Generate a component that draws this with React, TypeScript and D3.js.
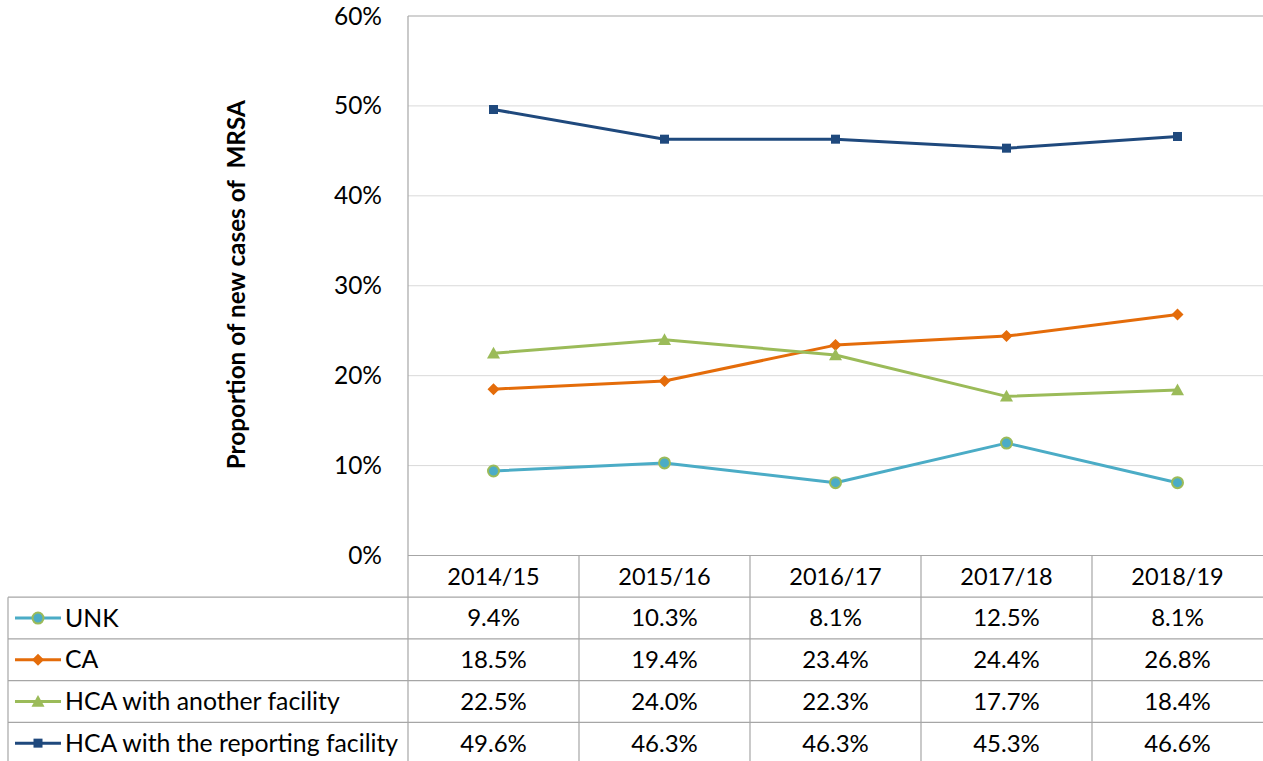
import React from "react";
import * as d3 from "d3";

const categories = ["2014/15", "2015/16", "2016/17", "2017/18", "2018/19"];
const seriesNames = ["UNK", "CA", "HCA with another facility", "HCA with the reporting facility"];
const unkValues = [9.4, 10.3, 8.1, 12.5, 8.1];
const caValues = [18.5, 19.4, 23.4, 24.4, 26.8];
const hcaAnotherValues = [22.5, 24.0, 22.3, 17.7, 18.4];
const hcaReportingValues = [49.6, 46.3, 46.3, 45.3, 46.6];
const yTicks = [0, 10, 20, 30, 40, 50, 60];

const seriesValues = [unkValues, caValues, hcaAnotherValues, hcaReportingValues];
const seriesColors = ["#4BACC6", "#E46C0A", "#9BBB59", "#1F497D"];
const markerTypes = ["circle", "diamond", "triangle", "square"];

const W = 1263, H = 761;
const plotLeft = 408, plotRight = 1264, plotTop = 16, plotBottom = 555.5;
const rowH = 41.7;
const FONT = "Lato, 'Open Sans', sans-serif";

function Marker({ type, x, y, color }: { type: string; x: number; y: number; color: string }) {
  if (type === "circle")
    return <circle cx={x} cy={y} r={5.5} fill={color} stroke="#9BBB59" strokeWidth={2} />;
  if (type === "diamond") {
    const s = 6;
    return <path d={`M${x},${y - s}L${x + s},${y}L${x},${y + s}L${x - s},${y}Z`} fill={color} />;
  }
  if (type === "triangle") {
    const s = 6.5;
    return <path d={`M${x},${y - s}L${x + s},${y + s * 0.8}L${x - s},${y + s * 0.8}Z`} fill={color} />;
  }
  return <rect x={x - 4.5} y={y - 4.5} width={9} height={9} fill={color} />;
}

export default function App() {
  const x = d3.scaleBand<string>().domain(categories).range([plotLeft, plotLeft + 171 * 5]);
  const y = d3.scaleLinear().domain([0, 60]).range([plotBottom, plotTop]);
  const line = d3
    .line<number>()
    .x((_, i) => (x(categories[i]) as number) + x.bandwidth() / 2)
    .y((d) => y(d));

  const fmt = (v: number) => v.toFixed(1) + "%";
  const tableTop = plotBottom;

  return (
    <svg
      width={W}
      height={H}
      style={{ position: "absolute", left: 0, top: 0, background: "#fff" }}
      fontFamily={FONT}
    >
      {/* gridlines */}
      {yTicks.slice(1, -1).map((t) => (
        <line key={t} x1={plotLeft} x2={plotRight} y1={y(t)} y2={y(t)} stroke="#D9D9D9" strokeWidth={1} />
      ))}
      <line x1={plotLeft} x2={plotRight} y1={y(60)} y2={y(60)} stroke="#A6A6A6" strokeWidth={1.2} />
      {/* y tick labels */}
      {yTicks.map((t) => (
        <text key={t} x={382} y={y(t)} dy="0.35em" textAnchor="end" fontSize={24.5} fill="#000">
          {t + "%"}
        </text>
      ))}
      {/* y axis title */}
      <text
        transform={`translate(245,${(plotTop + plotBottom) / 2 - 1}) rotate(-90)`}
        textAnchor="middle"
        fontSize={24.3}
        fontWeight="bold"
        fill="#000"
        style={{ whiteSpace: "pre" }}
      >
        {"Proportion of new cases of  MRSA"}
      </text>

      {/* table grid */}
      <line x1={plotLeft} x2={plotLeft} y1={plotTop} y2={H} stroke="#A6A6A6" strokeWidth={1.2} />
      <line x1={plotLeft} x2={plotRight} y1={tableTop} y2={tableTop} stroke="#A6A6A6" strokeWidth={1.2} />
      {categories.map((c, i) =>
        i > 0 ? (
          <line key={c} x1={x(c)} x2={x(c)} y1={tableTop} y2={H} stroke="#A6A6A6" strokeWidth={1.2} />
        ) : null
      )}
      {seriesNames.map((s, i) => (
        <line
          key={s}
          x1={8}
          x2={plotRight}
          y1={tableTop + rowH * (i + 1)}
          y2={tableTop + rowH * (i + 1)}
          stroke="#A6A6A6"
          strokeWidth={1.2}
        />
      ))}
      <line x1={8} x2={8} y1={tableTop + rowH} y2={H} stroke="#A6A6A6" strokeWidth={1.2} />

      {/* header */}
      {categories.map((c) => (
        <text
          key={c}
          x={(x(c) as number) + x.bandwidth() / 2}
          y={tableTop + rowH / 2}
          dy="0.35em"
          textAnchor="middle"
          fontSize={23.5}
          fill="#000"
        >
          {c}
        </text>
      ))}

      {/* rows */}
      {seriesNames.map((s, i) => {
        const cy = tableTop + rowH * (i + 1) + rowH / 2;
        return (
          <g key={s}>
            <line x1={15} x2={61} y1={cy} y2={cy} stroke={seriesColors[i]} strokeWidth={3} />
            <Marker type={markerTypes[i]} x={38} y={cy} color={seriesColors[i]} />
            <text x={65} y={cy} dy="0.35em" fontSize={24.8} fill="#000">
              {s}
            </text>
            {seriesValues[i].map((v, j) => (
              <text
                key={j}
                x={(x(categories[j]) as number) + x.bandwidth() / 2}
                y={cy}
                dy="0.35em"
                textAnchor="middle"
                fontSize={24}
                fill="#000"
              >
                {fmt(v)}
              </text>
            ))}
          </g>
        );
      })}

      {/* series lines */}
      {seriesValues.map((vals, i) => (
        <g key={i}>
          <path d={line(vals) as string} fill="none" stroke={seriesColors[i]} strokeWidth={3} strokeLinejoin="round" />
          {vals.map((v, j) => (
            <Marker
              key={j}
              type={markerTypes[i]}
              x={(x(categories[j]) as number) + x.bandwidth() / 2}
              y={y(v)}
              color={seriesColors[i]}
            />
          ))}
        </g>
      ))}
    </svg>
  );
}
